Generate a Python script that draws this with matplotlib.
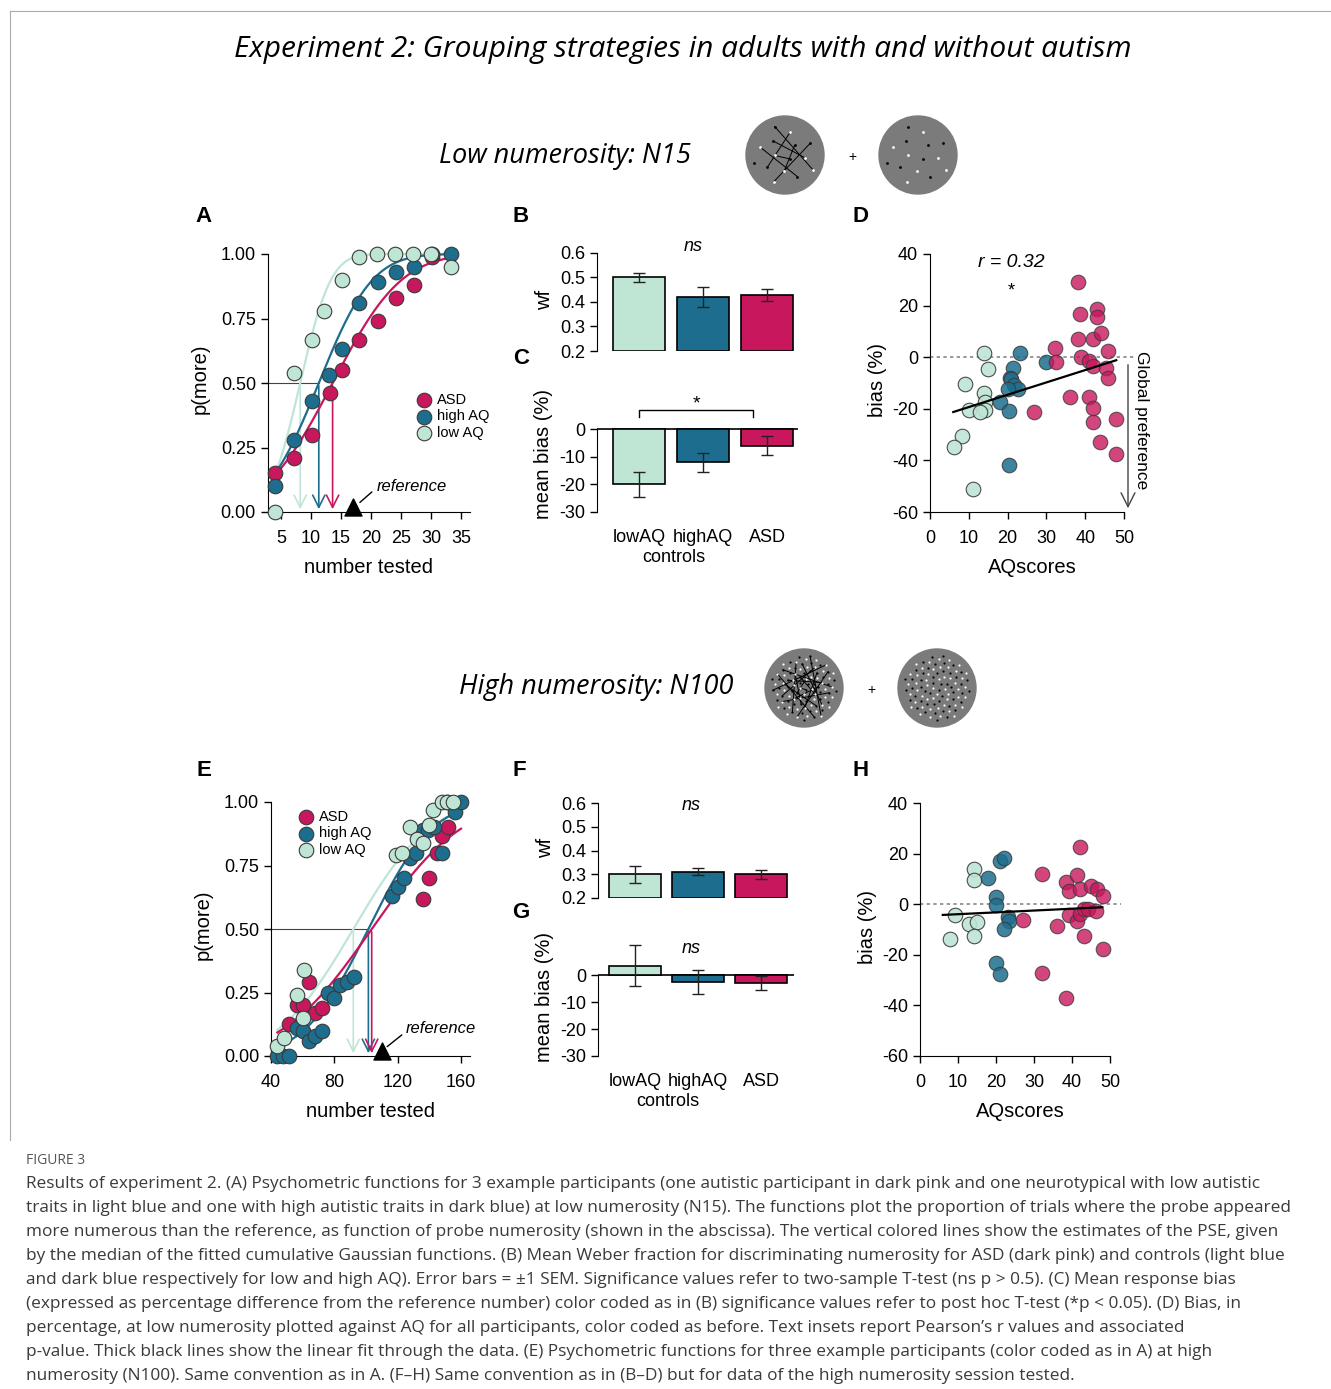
import math
import numpy as np
import matplotlib
matplotlib.use("Agg")
import matplotlib.pyplot as plt
from matplotlib.patches import Circle

plt.rcParams['font.family'] = ['Liberation Sans', 'DejaVu Sans']
plt.rcParams['axes.unicode_minus'] = False

W, H = 1331, 1389
C_ASD = '#c8175d'
C_HI = '#1d6e8e'
C_LO = '#bfe5d5'
EDGE = '#3a3a3a'

# ---------- panel A: low numerosity psychometric data ----------
a_lo_x = [4, 7.2, 10.2, 12.2, 15.1, 18, 21, 24, 27, 30, 33.3]
a_lo_y = [0.0, 0.54, 0.665, 0.78, 0.90, 0.99, 1.0, 1.0, 1.0, 1.0, 0.95]
a_hi_x = [4, 7.2, 10.2, 13, 15.1, 18, 21.2, 24.2, 27.2, 30.2, 33.3]
a_hi_y = [0.10, 0.28, 0.43, 0.53, 0.63, 0.81, 0.89, 0.93, 0.95, 1.0, 1.0]
a_asd_x = [4, 7.2, 10.2, 13.2, 15.1, 18, 21.2, 24.2, 27.2, 30.2]
a_asd_y = [0.15, 0.21, 0.30, 0.46, 0.55, 0.665, 0.74, 0.83, 0.88, 0.99]
a_pse = {'lo': 8.2, 'hi': 11.3, 'asd': 13.6}
a_sigma = {'lo': 4.0, 'hi': 7.0, 'asd': 9.0}
a_ref = 17

# ---------- panels B/C, F/G: group bars ----------
groups = ['lowAQ', 'highAQ', 'ASD']
b_wf = [0.50, 0.42, 0.43]
b_wf_err = [0.02, 0.04, 0.025]
c_bias = [-20, -12, -6]
c_bias_err = [4.5, 3.5, 3.5]
f_wf = [0.30, 0.31, 0.30]
f_wf_err = [0.035, 0.015, 0.02]
g_bias = [3.5, -2.5, -3]
g_bias_err = [7.5, 4.5, 2.5]

# ---------- panel D: bias vs AQ (low numerosity) ----------
d_lo_x = [14, 14.9, 9, 14, 14.2, 14.2, 10, 12.9, 8.3, 6.2, 11.2]
d_lo_y = [1.6, -4.6, -10.5, -14, -17.2, -20.4, -20.5, -21.4, -30.5, -34.8, -51]
d_hi_x = [23.2, 21.5, 20.6, 20.9, 21.6, 22.8, 20, 18.1, 20.4, 20.4, 29.9]
d_hi_y = [1.8, -4, -7.9, -8.5, -10.7, -12.4, -12.4, -17.3, -20.8, -41.8, -2]
d_asd_x = [32.2, 32.4, 26.9, 36.1, 38.1, 38.7, 38.1, 38.8, 43, 43, 42.1, 44, 41,
           42.1, 45.4, 46, 46, 41, 42.1, 42.1, 43.8, 47.9, 47.9]
d_asd_y = [3.4, -2, -21.4, -15.6, 29.3, 16.7, 7, -0.1, 18.7, 15.4, 7, 9.3, -1.4,
           -3.3, -4, -7.9, 2.5, -15.6, -19.5, -25, -33, -24, -37.6]

# ---------- panel E: high numerosity psychometric data ----------
e_lo_x = [44, 48.4, 56.2, 60.4, 61, 119, 122.5, 127.8, 132, 136.2, 140, 142.5, 148, 151, 155]
e_lo_y = [0.04, 0.07, 0.24, 0.15, 0.34, 0.79, 0.80, 0.90, 0.855, 0.84, 0.91, 0.97, 1.0, 1.0, 1.0]
e_hi_x = [44, 47.8, 51.6, 56.2, 60.4, 63.8, 67.8, 72, 75.8, 80, 83.6, 87.8, 92.6, 116.2,
          120.4, 124.2, 127.8, 131.6, 135.8, 139, 143.2, 147.8, 151, 156, 159.8]
e_hi_y = [0, 0, 0, 0.11, 0.10, 0.06, 0.08, 0.10, 0.25, 0.23, 0.28, 0.29, 0.31, 0.63,
          0.665, 0.70, 0.78, 0.80, 0.89, 0.89, 0.90, 0.80, 1.0, 0.96, 1.0]
e_asd_x = [51.6, 56.2, 60.4, 63.8, 67.8, 72, 136.2, 140, 144.6, 148, 152]
e_asd_y = [0.125, 0.20, 0.20, 0.29, 0.17, 0.19, 0.62, 0.70, 0.80, 0.865, 0.90]
e_pse = {'lo': 92, 'hi': 101.5, 'asd': 103.6}
e_sigma = {'lo': 38, 'hi': 32, 'asd': 45}
e_ref = 110

# ---------- panel H: bias vs AQ (high numerosity) ----------
h_lo_x = [14.1, 14.1, 9.1, 7.9, 12.9, 15, 14.1]
h_lo_y = [14.1, 9.5, -4.3, -13.8, -7.9, -7, -12.5]
h_hi_x = [18, 21.1, 22.2, 20, 20, 23.2, 23.4, 22, 20, 21.1]
h_hi_y = [10.2, 17.2, 18.1, 3, -0.4, -5, -6.6, -9.9, -23.3, -27.7]
h_asd_x = [27.1, 32.1, 32.1, 36.1, 38.3, 39.2, 38.3, 39.2, 41.2, 42.1, 42.1, 41.2, 43.1,
           42.1, 43.1, 44.2, 45.1, 46.5, 46.4, 48.2, 48.2]
h_asd_y = [-6.2, 11.9, -27.3, -8.8, 8.9, 5.3, -36.9, -4.3, 11.5, 22.5, 6, -6.6, -12.5,
           -3.9, -2, -2, 7.3, 6.2, -2.6, 3.3, -17.8]

fig = plt.figure(figsize=(W / 100, H / 100), dpi=100)
canvas = fig.add_axes([0, 0, 1, 1], zorder=-5)
canvas.set_xlim(0, W)
canvas.set_ylim(H, 0)
canvas.axis('off')


def place(xd, xp, xlim, yd, yp, ylim):
    sx = (xp[1] - xp[0]) / (xd[1] - xd[0])
    sy = (yp[1] - yp[0]) / (yd[1] - yd[0])
    l = xp[0] + (xlim[0] - xd[0]) * sx
    r = xp[0] + (xlim[1] - xd[0]) * sx
    b = yp[0] + (ylim[0] - yd[0]) * sy
    t = yp[0] + (ylim[1] - yd[0]) * sy
    ax = fig.add_axes([l / W, 1 - b / H, (r - l) / W, (b - t) / H])
    ax.set_xlim(*xlim)
    ax.set_ylim(*ylim)
    ax.patch.set_alpha(0)
    for s in ['top', 'right']:
        ax.spines[s].set_visible(False)
    ax.tick_params(labelsize=13, width=1, length=5)
    ax.tick_params(axis='x', pad=8)
    return ax


def cdf(x, mu, sd):
    return np.array([0.5 * (1 + math.erf((v - mu) / (sd * math.sqrt(2)))) for v in x])


def dots(ax, x, y, c, alpha=1.0, s=110):
    ax.scatter(x, y, s=s, color=c, edgecolor=EDGE, linewidth=0.8, alpha=alpha,
               zorder=4, clip_on=False)


def psycho(ax, data, pse, sigma, xr, ref, legend_xy):
    cols = {'asd': C_ASD, 'hi': C_HI, 'lo': C_LO}
    labels = {'asd': 'ASD', 'hi': 'high AQ', 'lo': 'low AQ'}
    xs = np.linspace(xr[0], xr[1], 200)
    ax.plot([ax.get_xlim()[0], pse['hi']], [0.5, 0.5], color='#444', lw=0.8, zorder=1)
    for k in ['lo', 'hi', 'asd']:
        ax.plot(xs, cdf(xs, pse[k], sigma[k]), color=cols[k], lw=1.6, zorder=2)
        ax.annotate('', xy=(pse[k], 0.0), xytext=(pse[k], 0.5),
                    arrowprops=dict(arrowstyle='->', color=cols[k], lw=1.2,
                                    mutation_scale=22), zorder=2)
    for k in ['asd', 'hi', 'lo']:
        x, y = data[k]
        dots(ax, x, y, cols[k])
        ax.scatter([], [], s=110, color=cols[k], edgecolor=EDGE, linewidth=0.8,
                   label=labels[k])
    ax.scatter([ref], [0.02], marker='^', s=150, color='black', zorder=5, clip_on=False)
    ax.legend(loc='upper left', bbox_to_anchor=legend_xy, bbox_transform=fig.transFigure,
              frameon=False, fontsize=10.5, handletextpad=0.3, labelspacing=0.15,
              borderpad=0, handlelength=1.2)
    ax.spines['left'].set_bounds(0, 1)
    ax.set_yticks([0, 0.25, 0.5, 0.75, 1.0])
    ax.set_yticklabels(['0.00', '0.25', '0.50', '0.75', '1.00'])
    ax.set_ylabel('p(more)', fontsize=14.5, labelpad=8)
    ax.set_xlabel('number tested', fontsize=14.5, labelpad=8)


def bars(ax, vals, errs, base):
    cols = [C_LO, C_HI, C_ASD]
    ax.bar(range(3), np.array(vals) - base, bottom=base, width=0.82, color=cols,
           edgecolor='black', linewidth=1.2, zorder=2)
    ax.errorbar(range(3), vals, yerr=errs, fmt='none', ecolor='#222', elinewidth=1,
                capsize=4, capthick=1, zorder=3)
    ax.spines['bottom'].set_visible(False)


# ---------------- A ----------------
axA = place((5, 35), (281, 461), (2.8, 36.5), (0, 1), (512, 254), (0, 1.03))
psycho(axA, {'lo': (a_lo_x, a_lo_y), 'hi': (a_hi_x, a_hi_y), 'asd': (a_asd_x, a_asd_y)},
       a_pse, a_sigma, (4, 33.5), a_ref, (408 / W, 1 - 386 / H))
axA.set_xticks([5, 10, 15, 20, 25, 30, 35])
axA.text(21, 0.08, 'reference', style='italic', fontsize=12)
axA.annotate('', xy=(17.8, 0.03), xytext=(20.5, 0.085),
             arrowprops=dict(arrowstyle='-', color='black', lw=1))

# ---------------- B ----------------
axB = place((0, 2), (639, 767), (-0.66, 2.48), (0.2, 0.6), (351, 253), (0.2, 0.62))
bars(axB, b_wf, b_wf_err, 0.2)
axB.set_xticks([])
axB.set_yticks([0.2, 0.3, 0.4, 0.5, 0.6])
axB.spines['left'].set_bounds(0.2, 0.6)
axB.set_ylabel('wf', fontsize=14.5)
axB.text(0.84, 0.61, 'ns', style='italic', fontsize=13, ha='center')

# ---------------- C ----------------
axC = place((0, 2), (639, 767), (-0.66, 2.48), (0, -30), (429, 512), (-30, 12))
bars(axC, c_bias, c_bias_err, 0)
axC.axhline(0, color='black', lw=1.2, zorder=1)
axC.spines['left'].set_bounds(-30, 0)
axC.set_yticks([0, -10, -20, -30])
axC.set_xticks(range(3))
axC.set_xticklabels(groups, fontsize=13)
axC.tick_params(axis='x', length=0, pad=12)
axC.set_ylabel('mean bias (%)', fontsize=14.5)
axC.plot([0, 0, 1.78, 1.78], [4.3, 6.9, 6.9, 4.3], color='black', lw=1)
axC.text(0.9, 7.5, '*', fontsize=14, ha='center')
canvas.text(674, 558, 'controls', fontsize=13, ha='center', va='center')

# ---------------- D ----------------
axD = place((0, 50), (930, 1124), (0, 53), (-60, 40), (512, 254), (-60, 42))
axD.axhline(0, color='#888', lw=1.2, ls=(0, (2, 2)), zorder=1)
dots(axD, d_lo_x, d_lo_y, C_LO, 0.9)
dots(axD, d_hi_x, d_hi_y, C_HI, 0.85)
dots(axD, d_asd_x, d_asd_y, C_ASD, 0.8)
dx = np.array(d_lo_x + d_hi_x + d_asd_x)
dy = np.array(d_lo_y + d_hi_y + d_asd_y)
p = np.polyfit(dx, dy, 1)
xl = np.array([6, 48])
axD.plot(xl, np.polyval(p, xl), color='black', lw=1.6, zorder=5)
axD.spines['bottom'].set_bounds(0, 50)
axD.spines['left'].set_bounds(-60, 40)
axD.set_xticks([0, 10, 20, 30, 40, 50])
axD.set_yticks([40, 20, 0, -20, -40, -60])
axD.set_ylabel('bias (%)', fontsize=14.5)
axD.set_xlabel('AQscores', fontsize=14.5, labelpad=8)
axD.text(21, 35, 'r = 0.32', style='italic', fontsize=14, ha='center')
axD.text(21, 24, '*', fontsize=13, ha='center')
canvas.annotate('', xy=(1128, 511), xytext=(1128, 362),
                arrowprops=dict(arrowstyle='->', color='#444', lw=1, mutation_scale=25))
canvas.text(1142, 420, 'Global preference', rotation=270, fontsize=12.5,
            ha='center', va='center')

# ---------------- E ----------------
axE = place((40, 160), (271, 461), (40, 166), (0, 1), (1056, 802), (0, 1.03))
psycho(axE, {'lo': (e_lo_x, e_lo_y), 'hi': (e_hi_x, e_hi_y), 'asd': (e_asd_x, e_asd_y)},
       e_pse, e_sigma, (44, 160), e_ref, (290 / W, 1 - 803 / H))
axE.set_xticks([40, 80, 120, 160])
axE.text(125, 0.09, 'reference', style='italic', fontsize=12)
axE.annotate('', xy=(112, 0.03), xytext=(124, 0.09),
             arrowprops=dict(arrowstyle='-', color='black', lw=1))

# ---------------- F ----------------
axF = place((0, 2), (635, 761), (-0.59, 2.53), (0.2, 0.6), (898, 803), (0.2, 0.62))
bars(axF, f_wf, f_wf_err, 0.2)
axF.set_xticks([])
axF.set_yticks([0.2, 0.3, 0.4, 0.5, 0.6])
axF.spines['left'].set_bounds(0.2, 0.6)
axF.set_ylabel('wf', fontsize=14.5)
axF.text(0.9, 0.57, 'ns', style='italic', fontsize=13, ha='center')

# ---------------- G ----------------
axG = place((0, 2), (635, 761), (-0.59, 2.53), (0, -30), (975, 1056), (-30, 14))
bars(axG, g_bias, g_bias_err, 0)
axG.axhline(0, color='black', lw=1.2, zorder=1)
axG.spines['left'].set_bounds(-30, 0)
axG.set_yticks([0, -10, -20, -30])
axG.set_xticks(range(3))
axG.set_xticklabels(groups, fontsize=13)
axG.tick_params(axis='x', length=0, pad=12)
axG.set_ylabel('mean bias (%)', fontsize=14.5)
axG.text(0.9, 8, 'ns', style='italic', fontsize=13, ha='center')
canvas.text(668, 1102, 'controls', fontsize=13, ha='center', va='center')

# ---------------- H ----------------
axH = place((0, 50), (920, 1110), (0, 53), (-60, 40), (1056, 803), (-60, 42))
axH.axhline(0, color='#888', lw=1.2, ls=(0, (2, 2)), zorder=1)
dots(axH, h_lo_x, h_lo_y, C_LO, 0.9)
dots(axH, h_hi_x, h_hi_y, C_HI, 0.85)
dots(axH, h_asd_x, h_asd_y, C_ASD, 0.8)
hx = np.array(h_lo_x + h_hi_x + h_asd_x)
hy = np.array(h_lo_y + h_hi_y + h_asd_y)
p = np.polyfit(hx, hy, 1)
axH.plot(xl, np.polyval(p, xl), color='black', lw=1.6, zorder=5)
axH.spines['bottom'].set_bounds(0, 50)
axH.spines['left'].set_bounds(-60, 40)
axH.set_xticks([0, 10, 20, 30, 40, 50])
axH.set_yticks([40, 20, 0, -20, -40, -60])
axH.set_ylabel('bias (%)', fontsize=14.5)
axH.set_xlabel('AQscores', fontsize=14.5, labelpad=8)

# ---------------- titles, stimuli, letters ----------------
tfont = ['Open Sans', 'DejaVu Sans']
canvas.text(683, 50, 'Experiment 2: Grouping strategies in adults with and without autism',
            family=tfont, style='italic', fontsize=21.5, ha='center', va='center')
canvas.text(565, 156, 'Low numerosity: N15', family=tfont, style='italic', fontsize=19.5,
            ha='center', va='center')
canvas.text(596, 687, 'High numerosity: N100', family=tfont, style='italic', fontsize=19.5,
            ha='center', va='center')


def stimulus(cx, cy, n, pairs):
    canvas.add_patch(Circle((cx, cy), 39, color='#7b7b7b', zorder=1))
    ga = math.pi * (3 - math.sqrt(5))
    pts = []
    for i in range(n):
        rr = 33 * math.sqrt((i + 0.5) / n)
        th = i * ga + 0.7
        pts.append((cx + rr * math.cos(th), cy + rr * math.sin(th)))
    if pairs:
        for i in range(0, n - 1, 2 if n < 50 else 6):
            j = (i + 1) % n
            canvas.plot([pts[i][0], pts[j][0]], [pts[i][1], pts[j][1]],
                        color='black', lw=0.7, zorder=2)
    for i, (x, y) in enumerate(pts):
        canvas.scatter([x], [y], s=4 if n < 50 else 2.5,
                       color='white' if i % 2 else 'black', zorder=3, lw=0)


stimulus(785, 155, 15, True)
stimulus(918, 155, 15, False)
stimulus(804, 688, 100, True)
stimulus(937, 688, 100, False)
canvas.text(852, 157, '+', fontsize=10, ha='center', va='center')
canvas.text(871, 690, '+', fontsize=10, ha='center', va='center')

for lab, x, y in [('A', 204, 216), ('B', 521, 216), ('C', 521, 358), ('D', 861, 216),
                  ('E', 204, 770), ('F', 519, 770), ('G', 521, 913), ('H', 861, 770)]:
    canvas.text(x, y, lab, fontsize=16, fontweight='bold', ha='center', va='center')

canvas.plot([10, 1331], [11, 11], color='#aaa', lw=0.8)
canvas.plot([10, 10], [11, 1140], color='#aaa', lw=0.8)

caption = [
    "Results of experiment 2. (A) Psychometric functions for 3 example participants (one autistic participant in dark pink and one neurotypical with low autistic",
    "traits in light blue and one with high autistic traits in dark blue) at low numerosity (N15). The functions plot the proportion of trials where the probe appeared",
    "more numerous than the reference, as function of probe numerosity (shown in the abscissa). The vertical colored lines show the estimates of the PSE, given",
    "by the median of the fitted cumulative Gaussian functions. (B) Mean Weber fraction for discriminating numerosity for ASD (dark pink) and controls (light blue",
    "and dark blue respectively for low and high AQ). Error bars = \u00b11 SEM. Significance values refer to two-sample T-test (ns p > 0.5). (C) Mean response bias",
    "(expressed as percentage difference from the reference number) color coded as in (B) significance values refer to post hoc T-test (*p < 0.05). (D) Bias, in",
    "percentage, at low numerosity plotted against AQ for all participants, color coded as before. Text insets report Pearson\u2019s r values and associated",
    "p-value. Thick black lines show the linear fit through the data. (E) Psychometric functions for three example participants (color coded as in A) at high",
    "numerosity (N100). Same convention as in A. (F\u2013H) Same convention as in (B\u2013D) but for data of the high numerosity session tested.",
]
canvas.text(26, 1160, 'FIGURE 3', family=tfont, fontsize=10, color='#555', va='center')
for i, line in enumerate(caption):
    canvas.text(26, 1184 + i * 24, line, family=tfont, fontsize=12.4, color='#3a3a3a',
                va='center')

fig.savefig('out.png', dpi=100)
